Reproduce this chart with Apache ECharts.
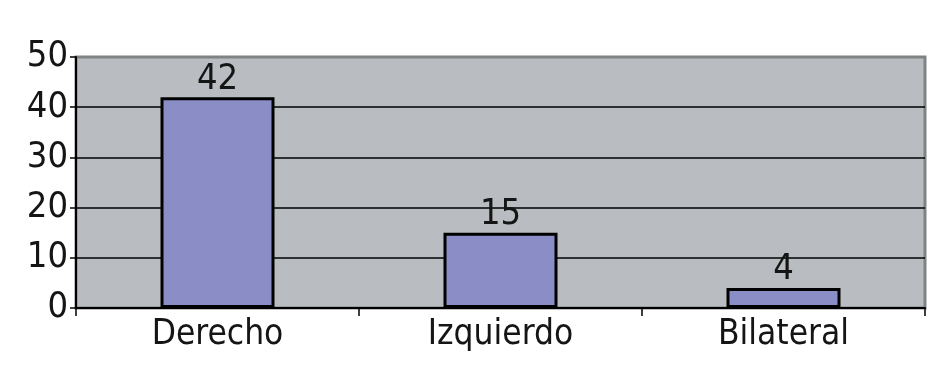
<!DOCTYPE html>
<html><head><meta charset="utf-8">
<script src="https://cdn.jsdelivr.net/npm/echarts@6/dist/echarts.min.js"></script>
<style>html,body{margin:0;padding:0;background:#fff}#c{width:950px;height:379px}</style>
</head><body><div id="c"></div>
<script>
var categories = ["Derecho", "Izquierdo", "Bilateral"];
var values = [42, 15, 4];
var yTicks = [0, 10, 20, 30, 40, 50];

var chart = echarts.init(document.getElementById('c'));
var font = '"DejaVu Sans Condensed", "DejaVu Sans", sans-serif';
chart.setOption({
  animation: false,
  backgroundColor: '#ffffff',
  grid: {left: 76, right: 25, top: 57, bottom: 71, show: true,
    backgroundColor: '#b9bcc0', borderColor: '#808284', borderWidth: 3},
  xAxis: {
    type: 'category', data: categories,
    axisLine: {lineStyle: {color: '#000', width: 2}},
    axisTick: {show: true, length: 8, lineStyle: {color: '#000', width: 1.5}},
    axisLabel: {color: '#151515', fontSize: 35, fontFamily: font, margin: 9}
  },
  yAxis: {
    type: 'value', min: yTicks[0], max: yTicks[yTicks.length-1], interval: 10,
    axisLine: {show: true, lineStyle: {color: '#000', width: 2}},
    axisTick: {show: true, length: 6, lineStyle: {color: '#000', width: 1.5}},
    axisLabel: {color: '#151515', fontSize: 36, fontFamily: font, margin: 8},
    splitLine: {show: true, lineStyle: {color: ['#000', '#000', '#000', '#000', '#000', 'rgba(0,0,0,0)'], width: 1.5}}
  },
  series: [{
    type: 'bar', data: values, barWidth: 114,
    itemStyle: {color: '#8b8dc6', borderColor: '#000', borderWidth: 3},
    label: {show: true, position: 'top', color: '#151515', fontSize: 36, fontFamily: font, distance: 0}
  }]
});
</script></body></html>
